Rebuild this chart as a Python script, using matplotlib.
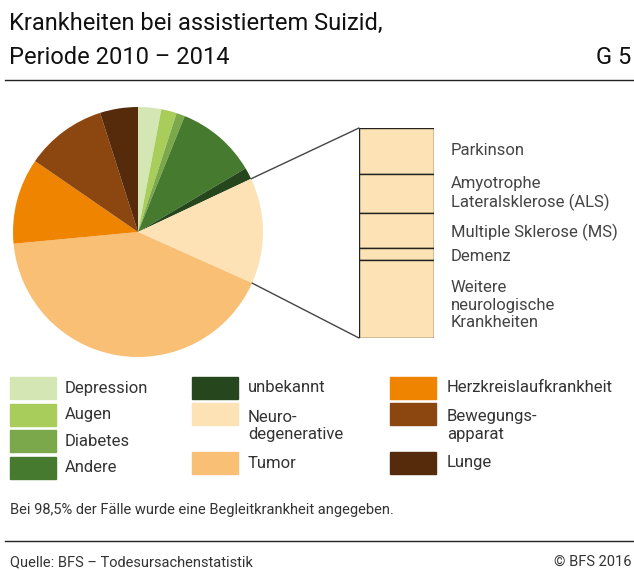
import numpy as np
import matplotlib
matplotlib.use("Agg")
import matplotlib.pyplot as plt
from matplotlib.patches import ConnectionPatch, Rectangle

plt.rcParams['font.family'] = ['Roboto', 'DejaVu Sans']

# Data (percent)
categories = ["Depression", "Augen", "Diabetes", "Andere", "unbekannt",
              "Neuro-\ndegenerative", "Tumor", "Herzkreislaufkrankheit",
              "Bewegungs-\napparat", "Lunge"]
shares = [3.0, 2.0, 1.1, 10.4, 1.5, 13.7, 41.8, 11.1, 10.5, 4.9]
colors = ["#d5e6b5", "#a9cd5a", "#7aa84a", "#467a2e", "#26461e",
          "#fde2b5", "#f8bf75", "#ee8400", "#8c4610", "#552b0c"]

neuro_labels = ["Parkinson", "Amyotrophe\nLateralsklerose (ALS)",
                "Multiple Sklerose (MS)", "Demenz",
                "Weitere\nneurologische\nKrankheiten"]
neuro_shares = [21.9, 18.6, 16.7, 5.7, 37.1]

W, H = 634, 570
fig = plt.figure(figsize=(W / 100, H / 100), dpi=100)


def fx(px):
    return px / W


def fy(py):
    return 1 - py / H


# Title
fig.text(fx(9), fy(23), "Krankheiten bei assistiertem Suizid,", fontsize=17,
         color="#111111", va="center", ha="left")
fig.text(fx(9), fy(57), "Periode 2010 \u2013 2014", fontsize=17,
         color="#111111", va="center", ha="left")
fig.text(fx(631), fy(57), "G 5", fontsize=17, color="#111111",
         va="center", ha="right")
fig.add_artist(plt.Line2D([fx(5), fx(634)], [fy(80), fy(80)], color="#222222", lw=1))

# Pie
ax = fig.add_axes([fx(13), fy(357), fx(250), 250 / H])
wedges, _ = ax.pie(shares, colors=colors, startangle=90, counterclock=False,
                   radius=1, wedgeprops=dict(linewidth=0))
ax.set_xlim(-1, 1)
ax.set_ylim(-1, 1)
ax.set_aspect("equal")
ax.axis("off")

# Stacked bar for neurodegenerative
bx = fig.add_axes([fx(359), fy(338), fx(75), 210 / H])
bottom = 100.0
mids = []
for val in neuro_shares:
    bx.bar(0, val, bottom=bottom - val, width=1, color="#fde2b5",
           edgecolor="#222222", linewidth=1)
    mids.append(bottom - val / 2)
    bottom -= val
bx.set_xlim(-0.5, 0.5)
bx.set_ylim(0, 100)
bx.axis("off")
label_shift = [0, 0, -1, -1, -3]
for lab, m, s in zip(neuro_labels, mids, label_shift):
    bx.text(0.72, m + s, lab, fontsize=12, color="#444444", va="center",
            ha="left", linespacing=1.2, clip_on=False)

# Connector lines
tot = sum(shares)
c1 = sum(shares[:5]) / tot
c2 = sum(shares[:6]) / tot
for c, ybar in [(c1, 100), (c2, 0)]:
    th = np.deg2rad(90 - 360 * c)
    con = ConnectionPatch(xyA=(np.cos(th), np.sin(th)), coordsA=ax.transData,
                          xyB=(-0.5, ybar), coordsB=bx.transData,
                          color="#444444", lw=1)
    fig.add_artist(con)

# Legend
col_x = [(10, 65), (192, 248), (390, 447)]
rows = [
    [(0, 388), (1, 415), (2, 441), (3, 468)],
    [(4, 388), (5, 414), (6, 463)],
    [(7, 388), (8, 414), (9, 463)],
]
for (sx, tx), col in zip(col_x, rows):
    for idx, yc in col:
        fig.add_artist(Rectangle((fx(sx), fy(yc + 11)), fx(46), 22 / H,
                                 color=colors[idx], transform=fig.transFigure))
        ty = yc if "\n" not in categories[idx] else yc + 12
        fig.text(fx(tx), fy(ty), categories[idx], fontsize=12,
                 color="#333333", va="center", ha="left", linespacing=1.25)

# Footnotes
fig.text(fx(10), fy(510), "Bei 98,5% der F\u00e4lle wurde eine Begleitkrankheit angegeben.",
         fontsize=10.5, color="#333333", va="center", ha="left")
fig.add_artist(plt.Line2D([fx(5), fx(634)], [fy(541), fy(541)], color="#222222", lw=1))
fig.text(fx(10), fy(562), "Quelle: BFS \u2013 Todesursachenstatistik",
         fontsize=10.5, color="#333333", va="center", ha="left")
fig.text(fx(631), fy(562), "\u00a9 BFS 2016", fontsize=10.5, color="#333333",
         va="center", ha="right")

fig.savefig("out.png", dpi=100)
